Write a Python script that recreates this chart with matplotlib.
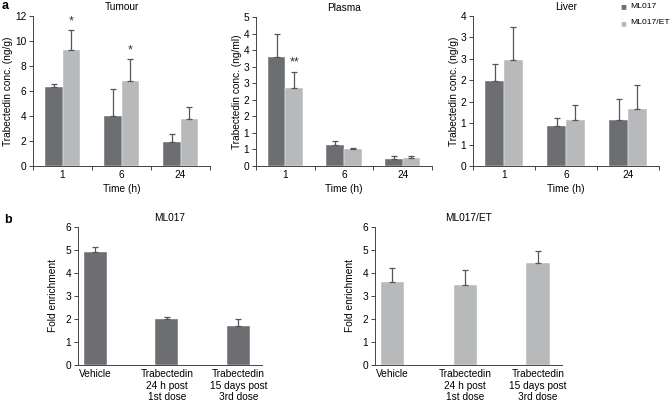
import numpy as np
import matplotlib
matplotlib.use("Agg")
import matplotlib.pyplot as plt
from matplotlib.ticker import FuncFormatter

plt.rcParams['font.family'] = ['Liberation Sans', 'DejaVu Sans']
plt.rcParams['font.size'] = 7.3

DARK = '#6d6e71'
LIGHT = '#b8b9bb'
ERR = '#555658'

# ---- data ----
times = ['1', '6', '24']
series = ['ML017', 'ML017/ET']

tumour_ml017 = [6.3, 4.0, 1.95]
tumour_ml017_err = [0.3, 2.15, 0.65]
tumour_et = [9.3, 6.8, 3.75]
tumour_et_err = [1.55, 1.75, 1.0]
tumour_stars = ['*', '*', '']

plasma_ml017 = [3.3, 0.62, 0.22]
plasma_ml017_err = [0.7, 0.15, 0.08]
plasma_et = [2.35, 0.52, 0.25]
plasma_et_err = [0.5, 0.03, 0.05]
plasma_stars = ['**', '', '']

liver_ml017 = [1.98, 0.93, 1.07]
liver_ml017_err = [0.4, 0.2, 0.5]
liver_et = [2.48, 1.07, 1.32]
liver_et_err = [0.77, 0.35, 0.57]

groups_b = ['Vehicle', 'Trabectedin\n24 h post\n1st dose', 'Trabectedin\n15 days post\n3rd dose']
fold_ml017 = [4.9, 2.0, 1.7]
fold_ml017_err = [0.23, 0.07, 0.3]
fold_et = [3.63, 3.47, 4.42]
fold_et_err = [0.6, 0.68, 0.55]

W, H = 670, 401
fig = plt.figure(figsize=(W / 100, H / 100), dpi=100)


def add_ax(left, right, top, bottom):
    return fig.add_axes([left / W, 1 - bottom / H, (right - left) / W, (bottom - top) / H])


def style(ax):
    for s in ['top', 'right']:
        ax.spines[s].set_visible(False)
    for s in ['left', 'bottom']:
        ax.spines[s].set_color('#444444')
        ax.spines[s].set_linewidth(0.7)
    ax.tick_params(axis='y', direction='out', length=3, width=0.7, color='#444444', pad=2)
    ax.tick_params(axis='x', which='major', length=0, pad=3)
    ax.tick_params(axis='x', which='minor', direction='out', length=3, width=0.7, color='#444444')


def half_up(v, pos):
    return '%d' % int(np.floor(v + 0.5))


def panel_a(ax, a, a_err, b, b_err, ymax, step, ylabel, title, stars=None, fmt=None):
    x = np.arange(len(times))
    w = 0.3
    ax.bar(x - w / 2, a, w, color=DARK, edgecolor='white', linewidth=0.3)
    ax.bar(x + w / 2, b, w, color=LIGHT, edgecolor='white', linewidth=0.3)
    ax.errorbar(x - w / 2, a, yerr=[np.zeros(3), a_err], fmt='none', ecolor=ERR, elinewidth=0.9, capsize=2.2, capthick=0.9)
    ax.errorbar(x + w / 2, b, yerr=[np.zeros(3), b_err], fmt='none', ecolor=ERR, elinewidth=0.9, capsize=2.2, capthick=0.9)
    if stars:
        for i, s in enumerate(stars):
            if s:
                ax.text(x[i] + w / 2, b[i] + b_err[i] + ymax * 0.02, s, ha='center', va='bottom', fontsize=9, color='#333333')
    style(ax)
    ax.set_xlim(-0.5, 2.5)
    ax.set_ylim(0, ymax)
    ax.set_yticks(np.arange(0, ymax + step / 2, step))
    if fmt:
        ax.yaxis.set_major_formatter(FuncFormatter(fmt))
    ax.set_xticks(x)
    ax.set_xticklabels(times)
    ax.set_xticks([-0.5, 0.5, 1.5, 2.5], minor=True)
    ax.set_xlabel('Time (h)', labelpad=3)
    ax.set_ylabel(ylabel, labelpad=1)
    ax.set_title(title, pad=4, fontsize=7.3)


ax1 = add_ax(33, 210, 16, 166)
panel_a(ax1, tumour_ml017, tumour_ml017_err, tumour_et, tumour_et_err, 12, 2,
        'Trabectedin conc. (ng/g)', 'Tumour', stars=tumour_stars)

ax2 = add_ax(256, 432, 17, 166)
panel_a(ax2, plasma_ml017, plasma_ml017_err, plasma_et, plasma_et_err, 4.5, 0.5,
        'Trabectedin conc. (ng/ml)', 'Plasma', stars=plasma_stars, fmt=half_up)

ax3 = add_ax(473, 659, 16, 166)
panel_a(ax3, liver_ml017, liver_ml017_err, liver_et, liver_et_err, 3.5, 0.5,
        'Trabectedin conc. (ng/g)', 'Liver', fmt=half_up)

# legend
fig.text(620 / W, 1 - 6 / H, '\u25A0', color=DARK, fontsize=7, ha='left', va='center')
fig.text(630 / W, 1 - 6 / H, series[0], fontsize=6.1, ha='left', va='center')
fig.text(620 / W, 1 - 23 / H, '\u25A0', color=LIGHT, fontsize=7, ha='left', va='center')
fig.text(630 / W, 1 - 23 / H, series[1], fontsize=6.1, ha='left', va='center')


def panel_b(ax, vals, errs, color, title):
    x = np.arange(len(groups_b))
    ax.bar(x, vals, 0.32, color=color, edgecolor='white', linewidth=0.3)
    ax.errorbar(x, vals, yerr=[np.zeros(3), errs], fmt='none', ecolor=ERR, elinewidth=0.9, capsize=2.2, capthick=0.9)
    style(ax)
    ax.set_xlim(-0.24, 2.33)
    ax.set_ylim(0, 6)
    ax.set_yticks(range(0, 7))
    ax.set_xticks(x)
    ax.set_xticklabels(groups_b, linespacing=1.2, va='top')
    ax.set_ylabel('Fold enrichment', labelpad=5)
    ax.set_title(title, pad=4, fontsize=7.3)


ax4 = add_ax(78, 262, 227, 365)
panel_b(ax4, fold_ml017, fold_ml017_err, DARK, 'ML017')

ax5 = add_ax(375, 562, 227, 365)
panel_b(ax5, fold_et, fold_et_err, LIGHT, 'ML017/ET')

fig.text(2 / W, 1 - 6 / H, 'a', fontsize=9, fontweight='bold', va='center')
fig.text(4 / W, 1 - 220 / H, 'b', fontsize=9, fontweight='bold', va='center')

fig.savefig('out.png', dpi=100)
